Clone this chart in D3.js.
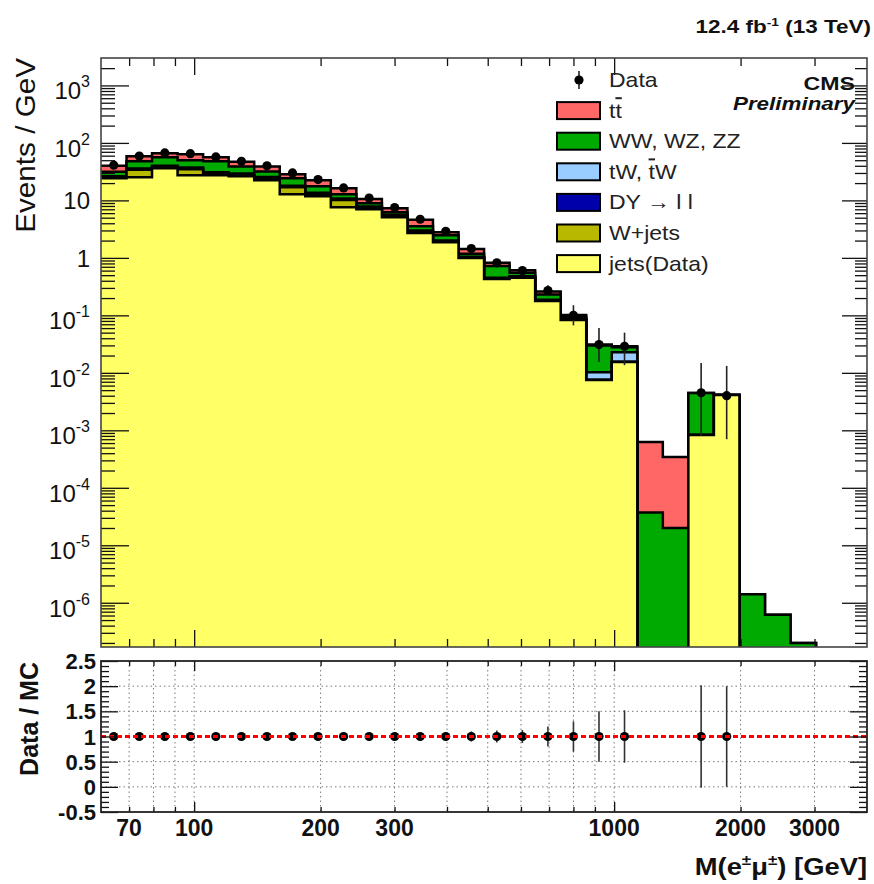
<!DOCTYPE html>
<html>
<head>
<meta charset="utf-8">
<script src="https://cdn.jsdelivr.net/npm/d3@7"></script>
<style>
  html, body { margin: 0; padding: 0; background: #fff; }
  svg { display: block; font-family: "Liberation Sans", Arial, Helvetica, sans-serif; }
</style>
</head>
<body>
<svg id="chart" width="874" height="884"></svg>
<script>
// M(e mu) binning in GeV: 30 logarithmic bins between 60 and 4000
const binEdges = [60, 69.02, 79.37, 91.30, 105.03, 120.81, 138.97, 159.86, 183.88, 211.52,
  243.31, 279.88, 321.95, 370.34, 426.01, 490.04, 563.70, 648.42, 745.88, 858.00,
  986.98, 1135.3, 1305.9, 1502.2, 1728.0, 1987.7, 2286.5, 2630.2, 3025.5, 3480.3, 4000];

// Background contributions, events / GeV per bin (bottom of the stack first)
const jetsFromData = [24.2, 25.2, 36.1, 27.3, 27.3, 26.2, 22.4, 12.8, 11.8, 7.6,
  7.0, 5.1, 2.7, 1.87, 0.99, 0.43, 0.45, 0.177, 0.083, 0.0075,
  0.0154, 0, 0, 8.3e-4, 4.1e-3, 0, 0, 0, 0, 0];
const wJets = [0.8, 8.8, 1.4, 7.4, 1.5, 1.3, 1.6, 4.1, 0.7, 2.6,
  0.3, 0.2, 0.1, 0.05, 0.02, 0.005, 0.01, 0.003, 0.001, 0,
  0.0001, 0, 0, 0, 0, 0, 0, 0, 0, 0];
const drellYan = [0.4, 0.6, 0.5, 0.8, 0.5, 0.5, 0.5, 0.3, 0.5, 0.2,
  0.2, 0.1, 0.05, 0.03, 0.01, 0.005, 0.005, 0.002, 0.001, 0.0001,
  0.0001, 0, 0, 0, 0, 0, 0, 0, 0, 0];
const singleTop = [1.0, 1.4, 2.0, 2.0, 1.7, 1.5, 1.0, 0.8, 0.6, 0.4,
  0.3, 0.2, 0.15, 0.05, 0.03, 0.01, 0.015, 0.005, 0.002, 0.0026,
  0.0072, 0, 0, 0, 0, 0, 0, 0, 0, 0];
const dibosons = [5.1, 11.8, 16.1, 12.5, 16.8, 9.5, 6.3, 6.2, 4.0, 2.0,
  1.1, 0.6, 0.55, 0.48, 0.13, 0.27, 0.07, 0.043, 0.008, 0.0198,
  0.005, 3.7e-5, 2.0e-5, 3.63e-3, 0, 1.4e-6, 6.2e-7, 2.0e-7, 0, 0];
const ttbar = [8.5, 10.7, 9.8, 13.3, 8.3, 7.8, 7.2, 4.3, 4.8, 3.4,
  1.7, 1.1, 1.05, 0.32, 0.24, 0.1, 0.06, 0.03, 0.006, 0.001,
  0.0012, 5.9e-4, 3.24e-4, 0, 0, 0, 0, 0, 0, 0];

// Observed data, events / GeV, with asymmetric uncertainties
const dataValues = [41, 59, 67, 65, 57, 48, 40, 30, 23, 16.5,
  11, 7.5, 4.7, 2.9, 1.45, 0.82, 0.6, 0.27, 0.1, 0.031,
  0.029, null, null, 4.5e-3, 4.0e-3, null, null, null, null, null];
const dataErrUp = [2.1, 2.4, 2.4, 2.1, 1.9, 1.6, 1.4, 1.2, 1.0, 0.8,
  0.55, 0.45, 0.33, 0.25, 0.15, 0.11, 0.09, 0.065, 0.05, 0.029,
  0.021, null, null, 0.0103, 0.0092, null, null, null, null, null];
const dataErrDown = [2.1, 2.4, 2.4, 2.1, 1.9, 1.6, 1.4, 1.2, 1.0, 0.8,
  0.55, 0.45, 0.33, 0.25, 0.15, 0.1, 0.08, 0.055, 0.033, 0.0156,
  0.0154, null, null, 0.0037, 0.0033, null, null, null, null, null];

// Data / MC ratio and its uncertainty
const ratioValues = [1.0, 1.0, 1.0, 1.0, 1.0, 1.0, 1.0, 1.0, 1.0, 1.0,
  1.0, 1.0, 1.0, 1.0, 1.0, 1.0, 1.0, 1.0, 1.0, 1.0,
  1.0, null, null, 1.0, 1.0, null, null, null, null, null];
const ratioErr = [0.05, 0.04, 0.035, 0.035, 0.035, 0.04, 0.04, 0.05, 0.05, 0.06,
  0.05, 0.06, 0.07, 0.08, 0.1, 0.12, 0.13, 0.2, 0.3, 0.5,
  0.52, null, null, 1.02, 1.0, null, null, null, null, null];

// Legend and tick labels
const legendLabels = ["Data", "t{t}", "WW, WZ, ZZ", "tW, {t}W", "DY \u2192 l l", "W+jets", "jets(Data)"];
const yMainTickValues = [1e3, 1e2, 1e1, 1, 1e-1, 1e-2, 1e-3, 1e-4, 1e-5, 1e-6];
const yMainTickLabels = [["10", "3"], ["10", "2"], ["10", ""], ["1", ""], ["10", "-1"], ["10", "-2"],
  ["10", "-3"], ["10", "-4"], ["10", "-5"], ["10", "-6"]];
const xTickValues = [70, 100, 200, 300, 1000, 2000, 3000];
const xTickLabels = ["70", "100", "200", "300", "1000", "2000", "3000"];
const ratioTickValues = [-0.5, 0, 0.5, 1, 1.5, 2, 2.5];
const ratioTickLabels = ["-0.5", "0", "0.5", "1", "1.5", "2", "2.5"];

// ---------------------------------------------------------------
const M = { left: 101, right: 867, top: 58, bottom: 647 };
const R = { top: 661, bottom: 812 };

const x = d3.scaleLog().domain([60, 4000]).range([M.left, M.right]);
const yMain = d3.scaleLog().domain([1.7e-7, 3000]).range([M.bottom, M.top]);
const yRatio = d3.scaleLinear().domain([-0.5, 2.5]).range([R.bottom, R.top]);

const svg = d3.select("#chart");
const defs = svg.append("defs");
defs.append("clipPath").attr("id", "clipMain").append("rect")
  .attr("x", M.left).attr("y", M.top).attr("width", M.right - M.left).attr("height", M.bottom - M.top);
defs.append("clipPath").attr("id", "clipRatio").append("rect")
  .attr("x", M.left).attr("y", R.top).attr("width", M.right - M.left).attr("height", R.bottom - R.top);

const keys = ["jets", "wjets", "dy", "tw", "vv", "tt"];
const colors = { jets: "#ffff66", wjets: "#b8b800", dy: "#0000aa", tw: "#99ccff", vv: "#00aa00", tt: "#ff6666" };

const rows = jetsFromData.map((_, i) => ({
  jets: jetsFromData[i], wjets: wJets[i], dy: drellYan[i], tw: singleTop[i], vv: dibosons[i], tt: ttbar[i]
}));
const stacked = d3.stack().keys(keys)(rows);

const floorY = M.bottom + 6;
const yClamp = v => (v > 0 ? Math.min(yMain(v), floorY) : floorY);
const centers = jetsFromData.map((_, i) => Math.sqrt(binEdges[i] * binEdges[i + 1]));

function stepPoints(series) {
  const pts = [];
  series.forEach((d, i) => {
    const yy = yClamp(d[1]);
    pts.push([x(binEdges[i]), yy]);
    pts.push([x(binEdges[i + 1]), yy]);
  });
  return pts;
}
const area = d3.area().x(p => p[0]).y0(floorY).y1(p => p[1]);
const line = d3.line().x(p => p[0]).y(p => p[1]);

// ---- stacked histogram: total first, each lower sum drawn over it
const gMain = svg.append("g").attr("clip-path", "url(#clipMain)");
stacked.slice().reverse().forEach(s => {
  const pts = stepPoints(s);
  gMain.append("path").attr("d", area(pts)).attr("fill", colors[s.key]).attr("stroke", "none");
  gMain.append("path").attr("d", line(pts)).attr("fill", "none")
    .attr("stroke", "#000").attr("stroke-width", 2.5).attr("stroke-linejoin", "miter");
});

// ---- data points
const dataIdx = dataValues.map((v, i) => i).filter(i => dataValues[i] !== null);
gMain.selectAll("line.err").data(dataIdx).join("line")
  .attr("class", "err")
  .attr("x1", i => x(centers[i])).attr("x2", i => x(centers[i]))
  .attr("y1", i => yMain(dataValues[i] + dataErrUp[i]))
  .attr("y2", i => yClamp(dataValues[i] - dataErrDown[i]))
  .attr("stroke", "#222").attr("stroke-width", 1.6);
gMain.selectAll("circle.pt").data(dataIdx).join("circle")
  .attr("class", "pt")
  .attr("cx", i => x(centers[i])).attr("cy", i => yMain(dataValues[i]))
  .attr("r", 4.6).attr("fill", "#000");

// ---- main frame and ticks
function tickGroup(axis, tx, ty) {
  const g = svg.append("g").attr("transform", `translate(${tx},${ty})`).call(axis);
  g.select(".domain").remove();
  g.selectAll(".tick line").attr("stroke", "#111").attr("stroke-width", 1.3);
  g.selectAll(".tick text").remove();
  return g;
}
const yMinor = [];
for (let e = -7; e <= 3; e++) for (let m = 2; m <= 9; m++) {
  const v = m * Math.pow(10, e);
  if (v > 1.7e-7 && v < 3000) yMinor.push(v);
}
tickGroup(d3.axisLeft(yMain).tickValues(yMainTickValues).tickSize(-28).tickSizeOuter(0), M.left, 0);
tickGroup(d3.axisLeft(yMain).tickValues(yMinor).tickSize(-14).tickSizeOuter(0), M.left, 0);
tickGroup(d3.axisRight(yMain).tickValues(yMainTickValues).tickSize(-25).tickSizeOuter(0), M.right, 0);
tickGroup(d3.axisRight(yMain).tickValues(yMinor).tickSize(-12).tickSizeOuter(0), M.right, 0);

const xMajor = [100, 1000];
const xMinor = [70, 80, 90, 200, 300, 400, 500, 600, 700, 800, 900, 2000, 3000];
tickGroup(d3.axisTop(x).tickValues(xMajor).tickSize(-17).tickSizeOuter(0), 0, M.top);
tickGroup(d3.axisTop(x).tickValues(xMinor).tickSize(-8).tickSizeOuter(0), 0, M.top);
tickGroup(d3.axisBottom(x).tickValues(xMajor).tickSize(-17).tickSizeOuter(0), 0, M.bottom);
tickGroup(d3.axisBottom(x).tickValues(xMinor).tickSize(-8).tickSizeOuter(0), 0, M.bottom);

svg.append("rect").attr("x", M.left).attr("y", M.top)
  .attr("width", M.right - M.left).attr("height", M.bottom - M.top)
  .attr("fill", "none").attr("stroke", "#444").attr("stroke-width", 1.6);

// y tick labels with powers of ten
const yLab = svg.append("g").attr("font-size", 24).attr("fill", "#111");
yMainTickValues.forEach((v, i) => {
  const [base, exp] = yMainTickLabels[i];
  const t = yLab.append("text").attr("text-anchor", "end")
    .attr("x", 90).attr("y", yMain(v) + (exp ? 14 : 9));
  t.append("tspan").text(base);
  if (exp) t.append("tspan").attr("dy", -12).attr("font-size", 16).text(exp);
});

// ---- ratio panel
const gRatio = svg.append("g");
const gridStyle = s => s.attr("stroke", "#7a7a7a").attr("stroke-width", 1).attr("stroke-dasharray", "1.5,3");
[0, 0.5, 1.5, 2].forEach(v => {
  gRatio.append("line").attr("x1", M.left).attr("x2", M.right)
    .attr("y1", yRatio(v)).attr("y2", yRatio(v)).call(gridStyle);
});
xMajor.concat(xMinor).forEach(v => {
  gRatio.append("line").attr("x1", x(v)).attr("x2", x(v))
    .attr("y1", R.top).attr("y2", R.bottom).call(gridStyle);
});

const ratioIdx = ratioValues.map((v, i) => i).filter(i => ratioValues[i] !== null);
const gRP = svg.append("g").attr("clip-path", "url(#clipRatio)");
gRP.selectAll("line.rerr").data(ratioIdx).join("line")
  .attr("class", "rerr")
  .attr("x1", i => x(centers[i])).attr("x2", i => x(centers[i]))
  .attr("y1", i => yRatio(ratioValues[i] + ratioErr[i]))
  .attr("y2", i => yRatio(ratioValues[i] - ratioErr[i]))
  .attr("stroke", "#333").attr("stroke-width", 1.6);
gRP.selectAll("circle.rpt").data(ratioIdx).join("circle")
  .attr("class", "rpt")
  .attr("cx", i => x(centers[i])).attr("cy", i => yRatio(ratioValues[i]))
  .attr("r", 4.6).attr("fill", "#000");
gRP.append("line").attr("x1", M.left).attr("x2", M.right)
  .attr("y1", yRatio(1)).attr("y2", yRatio(1))
  .attr("stroke", "#ff0000").attr("stroke-width", 3).attr("stroke-dasharray", "5,3");

const rMinor = d3.range(-5, 26).map(k => k / 10).filter(v => Math.abs(v * 2 - Math.round(v * 2)) > 1e-6);
tickGroup(d3.axisLeft(yRatio).tickValues(ratioTickValues).tickSize(-17).tickSizeOuter(0), M.left, 0);
tickGroup(d3.axisLeft(yRatio).tickValues(rMinor).tickSize(-8).tickSizeOuter(0), M.left, 0);
tickGroup(d3.axisRight(yRatio).tickValues(ratioTickValues).tickSize(-17).tickSizeOuter(0), M.right, 0);
tickGroup(d3.axisRight(yRatio).tickValues(rMinor).tickSize(-8).tickSizeOuter(0), M.right, 0);
tickGroup(d3.axisTop(x).tickValues(xMajor).tickSize(-10).tickSizeOuter(0), 0, R.top);
tickGroup(d3.axisTop(x).tickValues(xMinor).tickSize(-5).tickSizeOuter(0), 0, R.top);
tickGroup(d3.axisBottom(x).tickValues(xMajor).tickSize(-10).tickSizeOuter(0), 0, R.bottom);
tickGroup(d3.axisBottom(x).tickValues(xMinor).tickSize(-5).tickSizeOuter(0), 0, R.bottom);

svg.append("rect").attr("x", M.left).attr("y", R.top)
  .attr("width", M.right - M.left).attr("height", R.bottom - R.top)
  .attr("fill", "none").attr("stroke", "#222").attr("stroke-width", 1.8);

const rLab = svg.append("g").attr("font-size", 22).attr("font-weight", "bold").attr("fill", "#111");
ratioTickValues.forEach((v, i) => {
  rLab.append("text").attr("text-anchor", "end").attr("x", 96).attr("y", yRatio(v) + 8).text(ratioTickLabels[i]);
});
const xLab = svg.append("g").attr("font-size", 23).attr("font-weight", "bold").attr("fill", "#111");
xTickValues.forEach((v, i) => {
  xLab.append("text").attr("text-anchor", "middle").attr("x", x(v)).attr("y", 836).text(xTickLabels[i]);
});

// ---- axis titles
svg.append("text").attr("transform", "translate(35,58) rotate(-90) scale(1.06,1)")
  .attr("text-anchor", "end").attr("font-size", 28).attr("fill", "#111").text("Events / GeV");
svg.append("text").attr("transform", "translate(38,662) rotate(-90)")
  .attr("text-anchor", "end").attr("font-size", 25).attr("font-weight", "bold").attr("fill", "#111").text("Data / MC");
const xTitle = svg.append("text").attr("transform", "translate(867,875) scale(1.14,1)")
  .attr("text-anchor", "end").attr("font-size", 24).attr("font-weight", "bold").attr("fill", "#111");
xTitle.append("tspan").text("M(e");
xTitle.append("tspan").attr("dy", -10).attr("font-size", 15).text("\u00b1");
xTitle.append("tspan").attr("dy", 10).text("\u03bc");
xTitle.append("tspan").attr("dy", -10).attr("font-size", 15).text("\u00b1");
xTitle.append("tspan").attr("dy", 10).text(") [GeV]");

// ---- luminosity label and CMS tag
const lumi = svg.append("text").attr("transform", "translate(871,33) scale(1.25,1)")
  .attr("text-anchor", "end").attr("font-size", 18).attr("font-weight", "bold").attr("fill", "#111");
lumi.append("tspan").text("12.4 fb");
lumi.append("tspan").attr("dy", -7).attr("font-size", 11).text("-1");
lumi.append("tspan").attr("dy", 7).text(" (13 TeV)");
svg.append("text").attr("transform", "translate(855,90) scale(1.22,1)")
  .attr("text-anchor", "end").attr("font-size", 19).attr("font-weight", "bold").attr("fill", "#111").text("CMS");
svg.append("text").attr("transform", "translate(855,110) scale(1.18,1)")
  .attr("text-anchor", "end").attr("font-size", 19).attr("font-weight", "bold").attr("font-style", "italic")
  .attr("fill", "#111").text("Preliminary");

// ---- legend
const legendKeys = [null, "tt", "vv", "tw", "dy", "wjets", "jets"];
const legendRowY = [80, 110.6, 141.2, 171.8, 202.4, 233, 263.6];
const gLeg = svg.append("g");
legendLabels.forEach((lab, i) => {
  const cy = legendRowY[i];
  const k = legendKeys[i];
  if (k === null) {
    gLeg.append("line").attr("x1", 579).attr("x2", 579).attr("y1", cy - 9).attr("y2", cy + 9)
      .attr("stroke", "#222").attr("stroke-width", 1.6);
    gLeg.append("circle").attr("cx", 579).attr("cy", cy).attr("r", 4.6).attr("fill", "#000");
  } else {
    gLeg.append("rect").attr("x", 557).attr("y", cy - 8.5).attr("width", 43).attr("height", 17)
      .attr("fill", colors[k]).attr("stroke", "#000").attr("stroke-width", 2);
  }
  const t = gLeg.append("text").attr("transform", `translate(609,${cy + 7}) scale(1.15,1)`)
    .attr("font-size", 20).attr("fill", "#222");
  lab.split(/(\{[^}]*\})/).filter(s => s.length).forEach(part => {
    if (part[0] === "{") t.append("tspan").style("text-decoration", "overline").text(part.slice(1, -1));
    else t.append("tspan").text(part);
  });
});
</script>
</body>
</html>
